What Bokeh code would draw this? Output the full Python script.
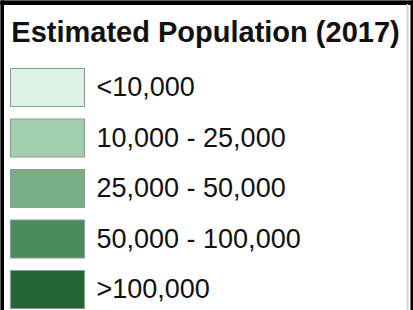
from bokeh.plotting import figure
from bokeh.models import Range1d, ColumnDataSource
from bokeh.core.properties import value
from bokeh.embed import file_html
from bokeh.resources import INLINE

# ---- data ----
title = "Estimated Population (2017)"
class_labels = ["<10,000", "10,000 - 25,000", "25,000 - 50,000", "50,000 - 100,000", ">100,000"]
class_colors = ["#dbf2e5", "#a3cfb1", "#78ad86", "#4b8a5c", "#236534"]

# ---- layout (reference pixel space) ----
W, H = 413, 310
row0, step, sw_h = 87.0, 50.5, 38.0
sw_left, sw_right = 10, 84
text_x = 96

p = figure(width=W, height=H, x_range=Range1d(0, W), y_range=Range1d(H, 0),
           output_backend="svg", toolbar_location=None, min_border=0,
           x_axis_type=None, y_axis_type=None)
p.grid.visible = False
p.outline_line_color = None
p.background_fill_color = "white"
p.border_fill_color = "white"

# frame lines
p.quad(left=[0], right=[W], top=[0], bottom=[4], color="black")
p.quad(left=[0], right=[3], top=[0], bottom=[H], color="black")
p.quad(left=[406.5], right=[407.5], top=[4], bottom=[H], color="#d4d4d4")
p.quad(left=[410.5], right=[413], top=[0], bottom=[H], color="black")

centers = [row0 + i * step for i in range(len(class_labels))]
src = ColumnDataSource(dict(
    left=[sw_left] * len(centers), right=[sw_right] * len(centers),
    top=[c - sw_h / 2 for c in centers], bottom=[c + sw_h / 2 for c in centers],
    color=class_colors, label=class_labels,
    tx=[text_x] * len(centers), ty=[c - 0.5 for c in centers],
))
p.quad(left="left", right="right", top="top", bottom="bottom", source=src,
       fill_color="color", line_color="#8e9c92", line_width=1.2)
p.text(x="tx", y="ty", text="label", source=src, text_font=value("Liberation Sans"),
       text_font_size="27px", text_baseline="middle", text_align="left",
       text_color="#111111")

p.text(x=[205], y=[31.7], text=[title], text_font=value("Liberation Sans"),
       text_font_style="bold", text_font_size="29px", text_baseline="middle",
       text_align="center", text_color="#111111")

open("out.html", "w").write(file_html(p, INLINE))
